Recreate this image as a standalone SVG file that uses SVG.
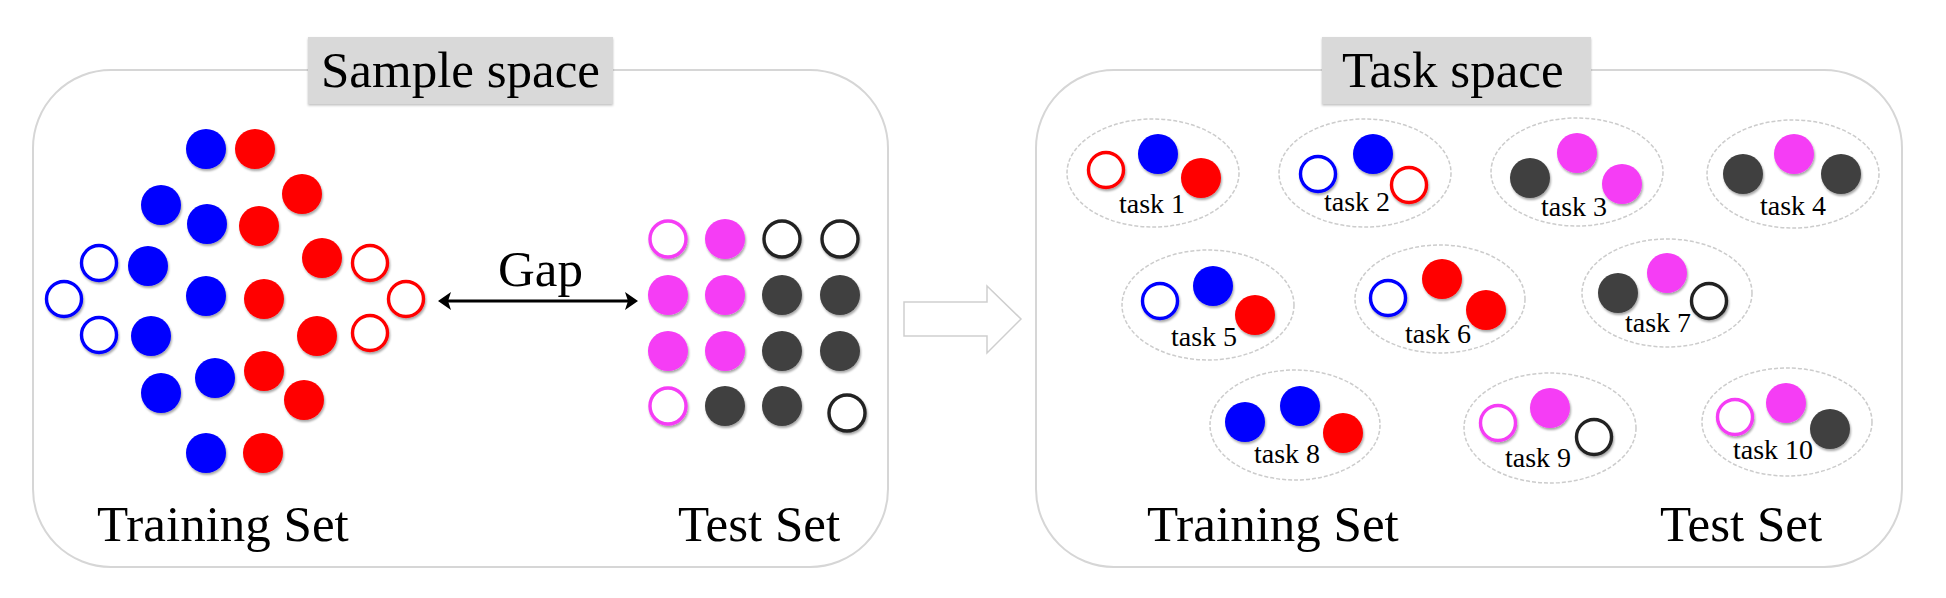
<svg xmlns="http://www.w3.org/2000/svg" width="1946" height="598" viewBox="0 0 1946 598">
<defs>
<filter id="sh" x="-30%" y="-30%" width="160%" height="160%">
<feDropShadow dx="1" dy="2" stdDeviation="1.2" flood-color="#000" flood-opacity="0.35"/>
</filter>
<filter id="bsh" x="-5%" y="-10%" width="110%" height="130%">
<feDropShadow dx="0" dy="1.5" stdDeviation="0.8" flood-color="#000" flood-opacity="0.25"/>
</filter>
</defs>
<style>
.panel{fill:#fff;stroke:#d6d6d6;stroke-width:2}
.lbl{fill:#d9d9d9}
.big{font-family:"Liberation Serif","Times New Roman",serif;font-size:51px;fill:#000}
.tk{font-family:"Liberation Serif","Times New Roman",serif;font-size:28px;fill:#000}
.ell{fill:#fff;stroke:#cccccc;stroke-width:1.5;stroke-dasharray:4 2}
.b{fill:#0000ff;filter:url(#sh)}
.r{fill:#ff0000;filter:url(#sh)}
.m{fill:#f53cf5;filter:url(#sh)}
.d{fill:#404040;filter:url(#sh)}
.hb{fill:#fff;stroke:#0000ff;stroke-width:3.4;filter:url(#sh)}
.hr{fill:#fff;stroke:#ff0000;stroke-width:3.4;filter:url(#sh)}
.hm{fill:#fff;stroke:#f53cf5;stroke-width:3.4;filter:url(#sh)}
.hk{fill:#fff;stroke:#222;stroke-width:3.4;filter:url(#sh)}
</style>
<rect width="1946" height="598" fill="#fff"/>

<g id="sample-panel">
<rect class="panel" x="33" y="70" width="855" height="497" rx="78" ry="78"/>
</g>
<g id="task-panel">
<rect class="panel" x="1036" y="70" width="866" height="497" rx="78" ry="78"/>
</g>

<g id="sample-space-label">
<rect class="lbl" x="308" y="37" width="305" height="67" filter="url(#bsh)"/>
<text class="big" x="321" y="87">Sample space</text>
</g>
<g id="task-space-label">
<rect class="lbl" x="1322" y="37" width="269" height="67" filter="url(#bsh)"/>
<text class="big" x="1342" y="87">Task space</text>
</g>

<g id="training-set-samples">
<circle class="b" cx="206" cy="149" r="20"/>
<circle class="r" cx="255" cy="149" r="20"/>
<circle class="r" cx="302" cy="194" r="20"/>
<circle class="b" cx="161" cy="205" r="20"/>
<circle class="b" cx="207" cy="224" r="20"/>
<circle class="r" cx="259" cy="226" r="20"/>
<circle class="hb" cx="99" cy="263" r="17.5"/>
<circle class="b" cx="148" cy="266" r="20"/>
<circle class="r" cx="322" cy="258" r="20"/>
<circle class="hr" cx="370" cy="263" r="17.5"/>
<circle class="hb" cx="64" cy="299" r="17.5"/>
<circle class="b" cx="206" cy="296" r="20"/>
<circle class="r" cx="264" cy="299" r="20"/>
<circle class="hr" cx="406" cy="299" r="17.5"/>
<circle class="hb" cx="99" cy="335" r="17.5"/>
<circle class="b" cx="151" cy="336" r="20"/>
<circle class="r" cx="317" cy="336" r="20"/>
<circle class="hr" cx="370" cy="333" r="17.5"/>
<circle class="b" cx="161" cy="393" r="20"/>
<circle class="b" cx="215" cy="378" r="20"/>
<circle class="r" cx="264" cy="371" r="20"/>
<circle class="r" cx="304" cy="400" r="20"/>
<circle class="b" cx="206" cy="453" r="20"/>
<circle class="r" cx="263" cy="453" r="20"/>
<text class="big" x="97" y="541">Training Set</text>
</g>

<g id="test-set-samples">
<circle class="hm" cx="668" cy="239" r="18"/>
<circle class="m" cx="725" cy="239" r="20"/>
<circle class="hk" cx="782" cy="239" r="18"/>
<circle class="hk" cx="840" cy="239" r="18"/>
<circle class="m" cx="668" cy="295" r="20"/>
<circle class="m" cx="725" cy="295" r="20"/>
<circle class="d" cx="782" cy="295" r="20"/>
<circle class="d" cx="840" cy="295" r="20"/>
<circle class="m" cx="668" cy="351" r="20"/>
<circle class="m" cx="725" cy="351" r="20"/>
<circle class="d" cx="782" cy="351" r="20"/>
<circle class="d" cx="840" cy="351" r="20"/>
<circle class="hm" cx="668" cy="406" r="18"/>
<circle class="d" cx="725" cy="406" r="20"/>
<circle class="d" cx="782" cy="406" r="20"/>
<circle class="hk" cx="847" cy="413" r="18"/>
<text class="big" x="678" y="541">Test Set</text>
</g>

<g id="task1">
<ellipse class="ell" cx="1153" cy="173" rx="86" ry="54"/>
<circle class="hr" cx="1106" cy="170" r="17.5"/>
<circle class="b" cx="1158" cy="154" r="20"/>
<circle class="r" cx="1201" cy="178" r="20"/>
<text class="tk" x="1119" y="213">task 1</text>
</g>
<g id="task2">
<ellipse class="ell" cx="1365" cy="173" rx="86" ry="54"/>
<circle class="hb" cx="1318" cy="174" r="17.5"/>
<circle class="b" cx="1373" cy="154" r="20"/>
<text class="tk" x="1324" y="211">task 2</text>
<circle class="hr" cx="1409" cy="185" r="17.5"/>
</g>
<g id="task3">
<ellipse class="ell" cx="1577" cy="172" rx="86" ry="54"/>
<circle class="d" cx="1530" cy="178" r="20"/>
<circle class="m" cx="1577" cy="153" r="20"/>
<circle class="m" cx="1622" cy="184" r="20"/>
<text class="tk" x="1541" y="216">task 3</text>
</g>
<g id="task4">
<ellipse class="ell" cx="1793" cy="174" rx="86" ry="54"/>
<circle class="d" cx="1743" cy="174" r="20"/>
<circle class="m" cx="1794" cy="154" r="20"/>
<circle class="d" cx="1841" cy="174" r="20"/>
<text class="tk" x="1760" y="215">task 4</text>
</g>
<g id="task5">
<ellipse class="ell" cx="1208" cy="305" rx="86" ry="55"/>
<circle class="hb" cx="1160" cy="301" r="17.5"/>
<circle class="b" cx="1213" cy="286" r="20"/>
<circle class="r" cx="1255" cy="315" r="20"/>
<text class="tk" x="1171" y="346">task 5</text>
</g>
<g id="task6">
<ellipse class="ell" cx="1440" cy="299" rx="85" ry="54"/>
<circle class="hb" cx="1388" cy="298" r="17.5"/>
<circle class="r" cx="1442" cy="279" r="20"/>
<circle class="r" cx="1486" cy="310" r="20"/>
<text class="tk" x="1405" y="343">task 6</text>
</g>
<g id="task7">
<ellipse class="ell" cx="1667" cy="293" rx="85" ry="54"/>
<circle class="d" cx="1618" cy="293" r="20"/>
<circle class="m" cx="1667" cy="273" r="20"/>
<text class="tk" x="1625" y="332">task 7</text>
<circle class="hk" cx="1709" cy="301" r="17.5"/>
</g>
<g id="task8">
<ellipse class="ell" cx="1295" cy="425" rx="85" ry="55"/>
<circle class="b" cx="1245" cy="422" r="20"/>
<circle class="b" cx="1300" cy="406" r="20"/>
<circle class="r" cx="1343" cy="433" r="20"/>
<text class="tk" x="1254" y="463">task 8</text>
</g>
<g id="task9">
<ellipse class="ell" cx="1550" cy="428" rx="86" ry="55"/>
<circle class="hm" cx="1498" cy="423" r="17.5"/>
<circle class="m" cx="1550" cy="408" r="20"/>
<circle class="hk" cx="1594" cy="437" r="17.5"/>
<text class="tk" x="1505" y="467">task 9</text>
</g>
<g id="task10">
<ellipse class="ell" cx="1787" cy="422" rx="85" ry="54"/>
<circle class="hm" cx="1735" cy="417" r="17.5"/>
<circle class="m" cx="1786" cy="403" r="20"/>
<circle class="d" cx="1830" cy="429" r="20"/>
<text class="tk" x="1733" y="459">task 10</text>
</g>
<text class="big" x="1147" y="541">Training Set</text>
<text class="big" x="1660" y="541">Test Set</text>

<g id="connectors">
<g id="gap-arrow">
<line x1="446" y1="301" x2="630" y2="301" stroke="#000" stroke-width="3.2"/>
<polygon points="438,301 451,292 448,301 451,310" fill="#000"/>
<polygon points="638,301 625,292 628,301 625,310" fill="#000"/>
<text class="big" x="498" y="286">Gap</text>
</g>
<polygon id="big-arrow" points="904,302 987,302 987,286 1021,319 987,353 987,336 904,336" fill="#fff" stroke="#cfcfcf" stroke-width="1.5"/>
</g>
</svg>
